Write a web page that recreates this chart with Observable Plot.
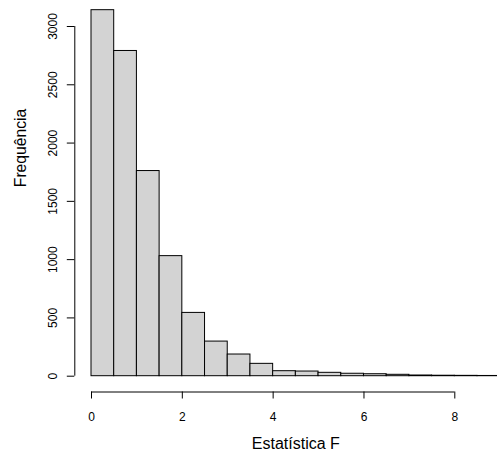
<!DOCTYPE html>
<html>
<head>
<meta charset="utf-8">
<script src="https://cdn.jsdelivr.net/npm/d3@7"></script>
<script src="https://cdn.jsdelivr.net/npm/@observablehq/plot@0.6"></script>
<style>
  html, body { margin: 0; padding: 0; background: #ffffff; }
</style>
</head>
<body>
<div id="chart"></div>
<script>
// Histogram breaks (bin edges) and counts
const breaks = [0, 0.5, 1, 1.5, 2, 2.5, 3, 3.5, 4, 4.5, 5, 5.5, 6, 6.5, 7, 7.5, 8, 8.5, 9];
const counts = [3140, 2790, 1760, 1030, 543, 297, 186, 106, 43, 40, 29, 21, 17, 12, 6, 4, 3, 2];
const xTicks = [0, 2, 4, 6, 8];
const yTicks = [0, 500, 1000, 1500, 2000, 2500, 3000];
const xTitle = "Estatística F";
const yTitle = "Frequência";

const bins = counts.map((c, i) => ({x0: breaks[i], x1: breaks[i + 1], count: c}));
const xMid = (breaks[0] + breaks[breaks.length - 1]) / 2;
const yMid = d3.max(counts) / 2;

const chart = Plot.plot({
  width: 497,
  height: 455,
  marginLeft: 74.3,
  marginBottom: 63.5,
  marginTop: 0,
  marginRight: 0,
  x: {domain: [xTicks[0], xTicks[xTicks.length - 1]], range: [91, 454.3]},
  y: {domain: [yTicks[0], yTicks[yTicks.length - 1]], range: [375.7, 26]},
  style: {
    fontFamily: "'Liberation Sans', Arial, Helvetica, sans-serif",
    fontSize: "12px",
    background: "#ffffff",
    color: "#000000"
  },
  marks: [
    Plot.rectY(bins, {x1: "x0", x2: "x1", y: "count", fill: "#d3d3d3", stroke: "#000000", strokeWidth: 1}),
    Plot.ruleX([xTicks[0]], {y1: yTicks[0], y2: yTicks[yTicks.length - 1], dx: -16.7, stroke: "#000000"}),
    Plot.axisY({ticks: yTicks, tickSize: 7.5, tickRotate: -90, tickPadding: 10, label: null, stroke: "#000000", fontSize: 12, tickFormat: d => String(d)}),
    Plot.ruleY([yTicks[0]], {x1: xTicks[0], x2: xTicks[xTicks.length - 1], dy: 15.8, stroke: "#000000"}),
    Plot.axisX({ticks: xTicks, tickSize: 7, tickPadding: 13, label: null, stroke: "#000000", fontSize: 12, tickFormat: d => String(d)}),
    Plot.text([xTitle], {x: [xMid], frameAnchor: "bottom", dy: 57, lineAnchor: "bottom", fontSize: 16, text: d => d}),
    Plot.text([yTitle], {y: [yMid], frameAnchor: "left", dx: -49.3, dy: -6, rotate: -90, lineAnchor: "bottom", fontSize: 15.7, text: d => d})
  ]
});
document.getElementById("chart").appendChild(chart);
</script>
</body>
</html>
